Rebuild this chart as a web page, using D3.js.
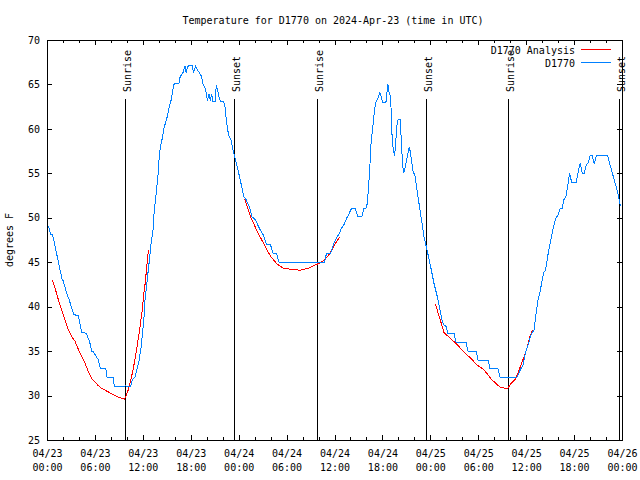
<!DOCTYPE html>
<html><head><meta charset="utf-8">
<script src="https://cdn.jsdelivr.net/npm/d3@7"></script>
<style>body{margin:0;background:#fff}</style>
</head><body><svg id="c" width="640" height="480" xmlns="http://www.w3.org/2000/svg"></svg>
<script>
const title = "Temperature for D1770 on 2024-Apr-23 (time in UTC)";
const yLabel = "degrees F";
const yTicks = [25, 30, 35, 40, 45, 50, 55, 60, 65, 70];
const xTickHours = [0, 6, 12, 18, 24, 30, 36, 42, 48, 54, 60, 66, 72];
const xTickDates = ["04/23","04/23","04/23","04/23","04/24","04/24","04/24","04/24","04/25","04/25","04/25","04/25","04/26"];
const xTickTimes = ["00:00","06:00","12:00","18:00","00:00","06:00","12:00","18:00","00:00","06:00","12:00","18:00","00:00"];
const xMinorHours = [2,4,8,10,14,16,20,22,26,28,32,34,38,40,44,46,50,52,56,58,62,64,68,70];
const seriesNames = ["D1770 Analysis", "D1770"];

const sunLabels = ["Sunrise","Sunset","Sunrise","Sunset","Sunrise","Sunset"];
const sunHours = [9.8, 23.45, 33.85, 47.5, 57.77, 71.65];

// observed (D1770), hours since 04/23 00:00 UTC
const obsHours = [0.16,0.34,0.46,0.67,0.8,1.5,1.92,2.0,2.6,2.7,3.35,3.93,4.35,4.93,5.35,5.6,5.75,6.44,6.69,7.36,7.53,8.28,8.45,9.62,9.78,10.45,10.7,11.04,11.29,11.54,11.79,12.13,12.25,12.83,13.08,13.26,13.42,13.63,13.76,13.89,14.09,14.26,14.47,14.68,15.01,15.35,15.51,15.77,15.93,16.52,16.68,17.02,17.1,17.27,17.44,17.6,17.77,18.19,18.36,18.6,18.86,19.1,19.36,19.53,19.86,20.1,20.28,20.45,20.61,20.78,21.04,21.2,21.36,21.54,21.7,22.12,22.29,22.45,22.62,22.79,23.04,23.2,23.4,23.62,23.79,24.12,24.63,24.96,25.38,25.68,26.09,26.38,26.72,27.06,27.47,27.97,28.31,28.73,29.06,34.75,35.0,35.5,35.9,36.34,36.67,36.84,37.17,37.5,37.84,38.1,38.6,38.92,39.43,39.68,39.93,40.1,40.27,40.43,40.6,40.77,40.93,41.1,41.27,41.52,41.69,41.85,42.02,42.44,42.61,42.69,42.86,43.03,43.19,43.36,43.53,43.69,43.86,44.03,44.2,44.37,44.53,44.7,44.87,45.12,45.37,45.53,45.7,45.87,46.04,46.2,46.45,46.7,46.95,47.2,47.58,48.04,48.46,48.88,49.21,49.46,49.71,49.96,50.21,50.97,51.22,52.47,52.72,53.73,53.98,55.23,55.48,56.48,56.74,58.83,59.17,59.33,59.58,59.92,60.25,60.59,61.0,61.25,61.5,61.75,62.0,62.18,62.43,62.68,62.93,63.18,63.43,63.68,64.0,64.26,64.51,64.7,65.01,65.26,65.44,65.69,66.27,66.52,66.77,67.02,67.27,67.52,67.77,68.02,68.27,68.53,68.78,70.2,70.46,70.8,71.14,71.47,71.8];
const obsTemps = [49.1,48.6,48.1,48.1,47.7,44.7,43.0,43.0,41.1,41.0,39.1,39.0,37.1,37.0,36.0,35.0,35.0,34.0,33.0,33.0,32.0,32.0,31.0,31.0,31.1,31.0,31.8,32.1,33.1,34.0,35.5,38.5,40.6,45.3,47.5,48.4,50.7,52.4,53.5,54.7,57.3,58.2,59.1,60.2,61.2,62.7,63.1,64.4,65.1,65.1,65.9,66.3,66.6,67.1,66.3,67.0,67.1,67.1,66.3,67.1,66.6,66.3,65.9,65.1,64.4,63.2,63.9,63.2,63.9,63.1,63.1,64.9,64.4,63.6,63.1,63.1,62.5,61.0,59.9,59.2,58.8,58.0,57.2,56.5,55.8,54.6,52.4,52.0,51.1,50.1,49.8,49.2,48.6,48.1,47.0,47.0,46.0,46.0,45.0,45.0,46.0,46.0,47.1,47.9,48.3,48.8,49.2,49.9,50.5,51.0,51.0,50.1,50.1,51.0,51.0,51.6,53.5,55.8,58.8,59.9,61.4,62.7,63.2,63.6,64.1,63.6,63.0,63.0,64.4,65.0,64.0,63.6,59.5,57.6,57.0,58.8,60.8,61.1,61.1,58.8,55.8,55.1,55.8,56.9,58.0,57.2,56.1,55.0,55.0,53.9,52.4,50.9,49.4,47.9,46.4,44.5,42.6,41.1,39.6,38.5,37.9,37.8,37.0,37.0,36.0,36.0,35.0,35.0,34.0,34.0,33.0,33.0,32.0,32.0,32.7,33.0,33.3,34.9,35.7,36.8,37.4,39.3,40.8,41.7,43.0,43.8,44.1,45.6,46.8,47.9,49.0,49.9,50.3,51.1,51.1,52.0,52.5,53.9,55.0,54.0,54.0,55.2,56.1,55.0,55.0,55.9,56.2,57.0,57.0,56.1,57.0,57.0,56.1,55.0,53.9,52.8,51.3];

// analysis (D1770 Analysis); null marks a gap
const anaHours = [0.67,1.0,1.42,1.84,2.26,2.67,3.1,3.51,3.93,4.35,4.77,5.18,5.6,6.02,6.44,6.86,7.28,7.7,8.11,8.53,8.94,9.37,9.7,9.87,10.2,10.54,10.88,11.2,11.54,11.88,12.13,12.29,12.7,
  18,
  24.75,25.45,26.3,27.13,27.97,28.8,29.64,30.68,31.72,32.64,33.5,34.24,34.82,35.5,36.12,36.6,
  42,
  48.65,49.1,49.5,49.7,50.55,51.4,52.2,53.05,53.9,54.73,55.57,56.4,56.8,57.7,58.04,58.7,59.33,59.96,60.5,60.8];
const anaTemps = [43.0,42.1,40.8,39.6,38.5,37.4,36.6,36.1,35.2,34.4,33.6,32.7,31.9,31.5,31.1,30.8,30.6,30.4,30.2,30.0,29.8,29.7,29.6,29.9,30.7,31.9,33.4,35.1,37.0,39.3,41.5,42.6,46.4,
  null,
  52.1,50.2,48.5,47.1,45.7,44.8,44.3,44.2,44.1,44.3,44.65,44.95,45.3,46.1,47.1,47.8,
  null,
  40.3,38.9,37.75,37.1,36.4,35.7,34.9,34.2,33.4,32.9,31.9,31.2,30.9,30.8,31.3,31.9,33.4,34.9,36.7,37.4];

const colors = ["#ff0000", "#0080ff"];
const FONT = "'DejaVu Sans Mono', 'Liberation Mono', monospace";

const svg = d3.select("#c");
const L = 47, R = 622, T = 40, B = 440;
const x = d3.scaleLinear().domain([0, 72]).range([L, R]);
const y = d3.scaleLinear().domain([25, 70]).range([B, T]);

svg.append("rect").attr("width", 640).attr("height", 480).attr("fill", "#fff");

// title
svg.append("text").attr("x", 333).attr("y", 24).attr("text-anchor", "middle")
  .attr("font-family", FONT).attr("font-size", 10).text(title);

// y label
svg.append("text").attr("transform", "translate(13,240) rotate(-90)")
  .attr("text-anchor", "middle").attr("font-family", FONT).attr("font-size", 10).text(yLabel);

function styleAxis(g) {
  g.selectAll("path,line").attr("stroke", "#000").attr("shape-rendering", "crispEdges");
  g.selectAll("text").attr("font-family", FONT).attr("font-size", 10).attr("fill", "#000");
}

// bottom axis
const gb = svg.append("g").attr("transform", `translate(0,${B})`)
  .call(d3.axisBottom(x).tickValues(xTickHours).tickSize(-5).tickSizeOuter(0).tickPadding(0)
    .tickFormat((d, i) => xTickDates[i]));
styleAxis(gb);
gb.selectAll(".tick text").each(function(d, i) {
  const t = d3.select(this);
  t.text(null).attr("y", 0).attr("dy", null);
  t.append("tspan").attr("x", 0).attr("y", 17).text(xTickDates[i]);
  t.append("tspan").attr("x", 0).attr("y", 31).text(xTickTimes[i]);
});
svg.append("g").attr("transform", `translate(0,${B})`)
  .call(d3.axisBottom(x).tickValues(xMinorHours).tickSize(-3).tickSizeOuter(0).tickFormat(""))
  .call(styleAxis).select(".domain").remove();

// top axis
svg.append("g").attr("transform", `translate(0,${T})`)
  .call(d3.axisTop(x).tickValues(xTickHours).tickSize(-5).tickSizeOuter(0).tickFormat(""))
  .call(styleAxis);
svg.append("g").attr("transform", `translate(0,${T})`)
  .call(d3.axisTop(x).tickValues(xMinorHours).tickSize(-3).tickSizeOuter(0).tickFormat(""))
  .call(styleAxis).select(".domain").remove();

// left axis
svg.append("g").attr("transform", `translate(${L},0)`)
  .call(d3.axisLeft(y).tickValues(yTicks).tickSize(-5).tickSizeOuter(0).tickPadding(7))
  .call(styleAxis);
// right axis
svg.append("g").attr("transform", `translate(${R},0)`)
  .call(d3.axisRight(y).tickValues(yTicks).tickSize(-5).tickSizeOuter(0).tickFormat(""))
  .call(styleAxis);

// sunrise / sunset
const sun = svg.append("g");
sunHours.forEach((h, i) => {
  const xp = Math.round(x(h)) + 0.5;
  sun.append("line").attr("x1", xp).attr("x2", xp).attr("y1", 99).attr("y2", B)
    .attr("stroke", "#000").attr("shape-rendering", "crispEdges");
  sun.append("text").attr("transform", `translate(${xp + 5},92) rotate(-90)`)
    .attr("font-family", FONT).attr("font-size", 10).attr("text-anchor", "start")
    .text(sunLabels[i]);
});

// data lines
const obs = obsHours.map((h, i) => ({h, t: obsTemps[i]}));
const ana = anaHours.map((h, i) => ({h, t: anaTemps[i]}));
const line = d3.line().defined(d => d.t != null).x(d => x(d.h)).y(d => y(d.t));

svg.append("path").datum(ana).attr("d", line).attr("fill", "none")
  .attr("stroke", colors[0]).attr("stroke-width", 1).attr("shape-rendering", "crispEdges");
svg.append("path").datum(obs).attr("d", line).attr("fill", "none")
  .attr("stroke", colors[1]).attr("stroke-width", 1).attr("shape-rendering", "crispEdges");

// legend
const leg = svg.append("g");
seriesNames.forEach((n, i) => {
  const ly = 50 + i * 13;
  leg.append("text").attr("x", 575).attr("y", ly).attr("dy", "0.35em")
    .attr("text-anchor", "end").attr("font-family", FONT).attr("font-size", 10).text(n);
  leg.append("line").attr("x1", 581).attr("x2", 611).attr("y1", ly - 0.5).attr("y2", ly - 0.5)
    .attr("stroke", colors[i]).attr("shape-rendering", "crispEdges");
});
</script>
</body></html>
